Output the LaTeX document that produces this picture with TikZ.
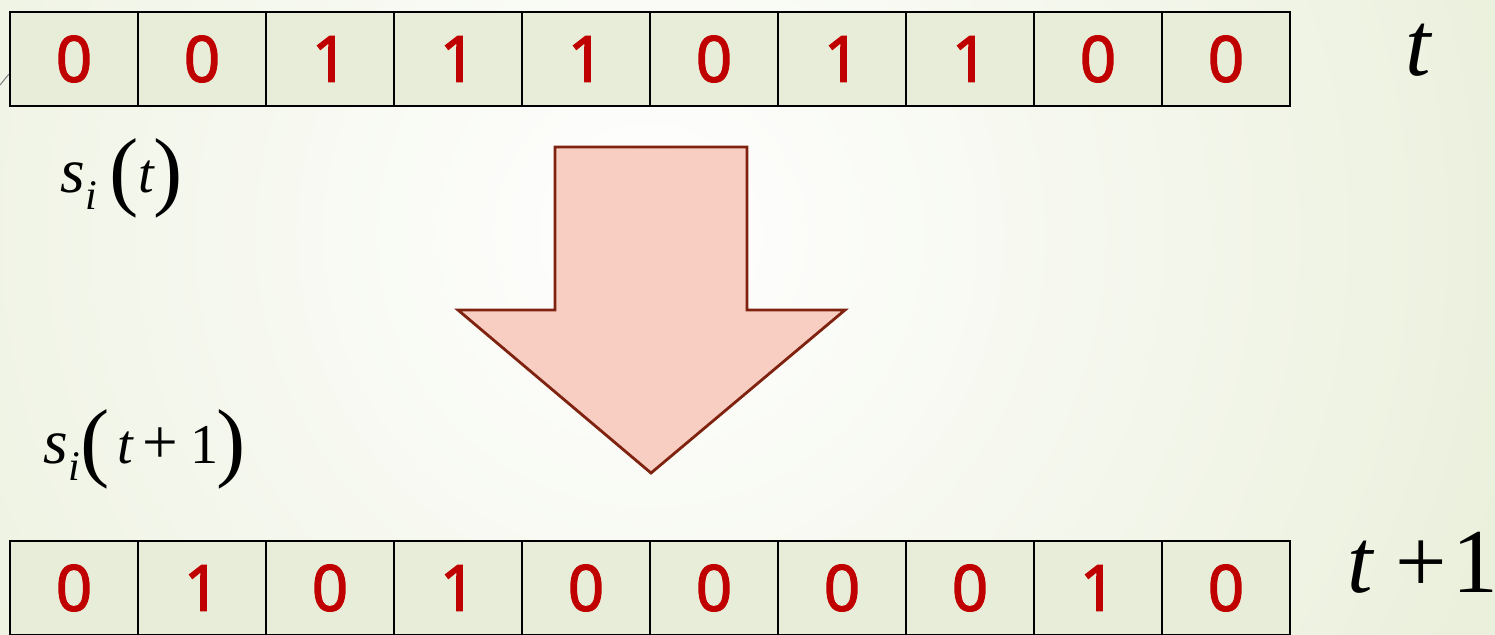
\documentclass[tikz,border=0pt]{standalone}
\usepackage{fontspec}
\usepackage{tikz}
\newfontfamily\digitfont{Open Sans}[FakeBold=2.5]
\newfontfamily\timesfont{Liberation Serif}
\definecolor{zelle}{HTML}{E8EDDA}
\definecolor{ziffer}{HTML}{C00000}
\definecolor{pfeilf}{HTML}{F8CEC3}
\definecolor{pfeild}{HTML}{7F2210}
\definecolor{hgout}{HTML}{D9E3BE}
\newcommand{\gp}[1]{{\fontsize{25}{28}\selectfont\raisebox{-0.07cm}{#1}}}
\newcommand{\idx}{\raisebox{-0.17cm}{\fontsize{12}{14}\selectfont\itshape i}}
\newcommand{\kl}[1]{{\fontsize{16}{18}\selectfont#1}}
\tikzset{
  zelle/.style={draw=black,fill=zelle,line width=0.75pt,minimum width=1.28cm,minimum height=0.94cm,inner sep=0pt,text=ziffer,font=\digitfont\fontsize{18}{20}\selectfont},
  zeit/.style={anchor=base west,inner sep=0pt,font=\timesfont\fontsize{26}{30}\selectfont},
  zust/.style={anchor=base west,inner sep=0pt,font=\timesfont\fontsize{18}{22}\selectfont},
  pfeil/.style={fill=pfeilf,draw=pfeild,line width=0.8pt,line join=miter},
}

\begin{document}
\begin{tikzpicture}
  \useasboundingbox (0,0) rectangle (14.95,6.34);
  \begin{scope}
    \clip (0,0) rectangle (14.95,6.34);
    \shade[inner color=white,outer color=hgout] (6.5,4.0) circle (17);
  \end{scope}
  \draw[gray,line width=0.3pt] (0,5.49)--(0.09,5.60);
  \foreach \i/\v in {1/0,2/0,3/1,4/1,5/1,6/0,7/1,8/1,9/0,10/0}
    \node[zelle] (top\i) at ({0.1+1.28*\i-0.64},5.75) {\v};
  \foreach \i/\v in {1/0,2/1,3/0,4/1,5/0,6/0,7/0,8/0,9/1,10/0}
    \node[zelle] (bot\i) at ({0.1+1.28*\i-0.64},0.46) {\v};
  \node[zeit] (tnow) at (14.05,5.59) {\itshape t};
  \node[zeit] (tnext) at (13.47,0.42) {{\itshape t}\hspace{0.22cm}+\hspace{0.06cm}1};
  \node[zust] (snow) at (0.60,4.42) {{\itshape s}\idx\hspace{0.12cm}\gp{(}\kl{\itshape t}\gp{)}};
  \node[zust] (snext) at (0.43,1.71) {{\itshape s}\idx\gp{(}\hspace{0.08cm}\kl{\itshape t}\hspace{0.1cm}+\hspace{0.12cm}\kl{1}\hspace{-0.02cm}\gp{)}};
  \draw[pfeil] (5.55,4.87)--(7.47,4.87)--(7.47,3.24)--(8.45,3.24)--(6.51,1.61)--(4.58,3.24)--(5.55,3.24)--cycle;
\end{tikzpicture}
\end{document}
